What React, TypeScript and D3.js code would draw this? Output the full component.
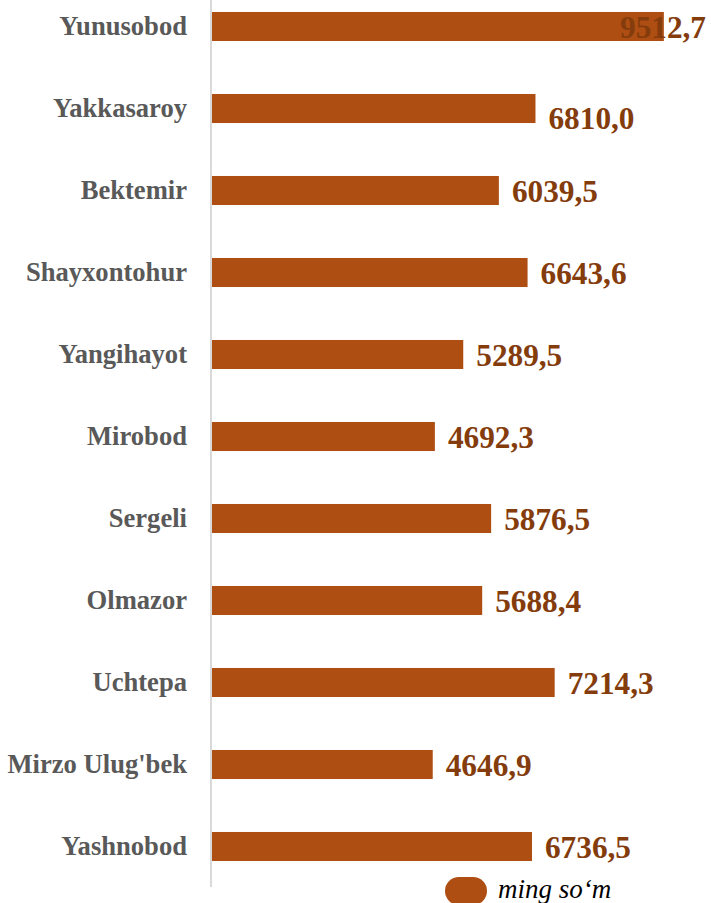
import React from 'react'
import * as d3 from 'd3'

const districts = ['Yunusobod', 'Yakkasaroy', 'Bektemir', 'Shayxontohur', 'Yangihayot', 'Mirobod', 'Sergeli', 'Olmazor', 'Uchtepa', "Mirzo Ulug'bek", 'Yashnobod']
const values = [9512.7, 6810.0, 6039.5, 6643.6, 5289.5, 4692.3, 5876.5, 5688.4, 7214.3, 4646.9, 6736.5]
const legendLabel = 'ming so‘m'

const width = 711
const height = 903
const axisX = 211
const barColor = '#ae4e13'
const valueColor = '#843c0c'

const fmt = (v: number) => v.toFixed(1).replace('.', ',')

const App = () => {
    const x = d3.scaleLinear().domain([0, 10000]).range([axisX + 1, axisX + 1 + 475])

    const y = d3.scaleBand<string>()
        .domain(districts)
        .range([-14.5, 887.5])
        .paddingInner(0.646)
        .paddingOuter(0.323)

    const labelW = 86

    return (
        <svg width={width} height={height} style={{ position: 'absolute', left: 0, top: 0, background: '#fff' }}>
            {districts.map((d, i) => {
                const y0 = y(d) as number
                const cy = y0 + y.bandwidth() / 2
                const end = x(values[i])
                // label pushed left if it would run off the right edge
                let lx = end + 13
                if (lx + labelW > width - 5) lx = width - 5 - labelW
                // Excel nudged this one down to avoid the label above
                const dy = i === 1 ? 20 : 11
                return (
                    <g key={d}>
                        <rect x={x(0)} y={y0} width={end - x(0)} height={y.bandwidth()} fill={barColor} />
                        <text x={187} y={cy + 8.5} textAnchor="end"
                            style={{ font: 'bold 26.6px "Liberation Serif", serif', fill: '#595959' }}>{d}</text>
                        <text x={lx} y={cy + dy} textLength={labelW} lengthAdjust="spacingAndGlyphs"
                            style={{ font: 'bold 31.5px "Liberation Serif", serif', fill: valueColor }}>{fmt(values[i])}</text>
                    </g>
                )
            })}
            <line x1={axisX} x2={axisX} y1={0} y2={887} stroke="#d9d9d9" strokeWidth={2} />
            <rect x={445} y={877} width={42} height={28} rx={14} fill={barColor} />
            <text x={498} y={898} style={{ font: 'italic 27px "Liberation Serif", serif', fill: '#000' }}>{legendLabel}</text>
        </svg>
    )
}

export default App
